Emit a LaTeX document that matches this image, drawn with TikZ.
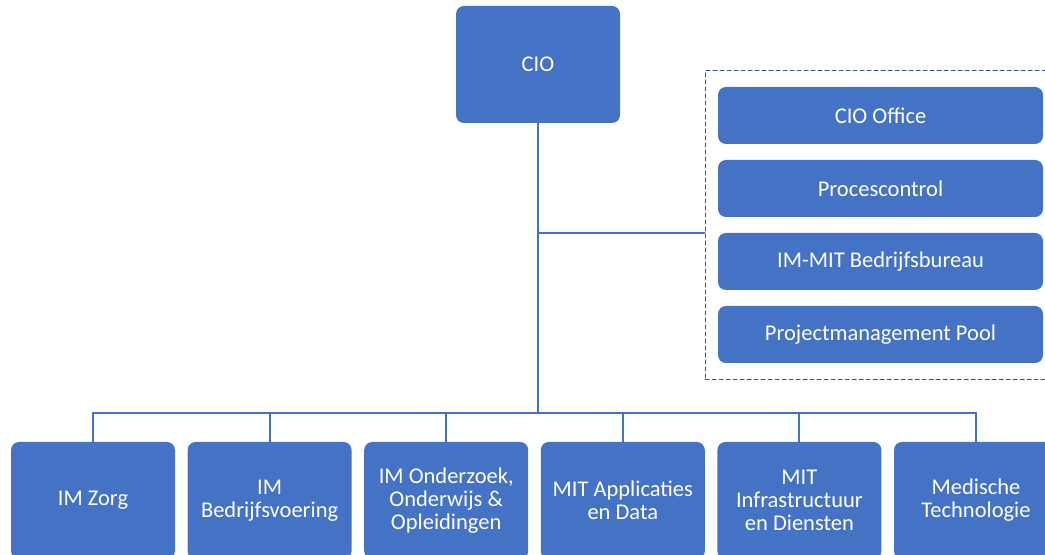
\documentclass[tikz,border=0pt]{standalone}
\usepackage{fontspec}
\setmainfont{Carlito}
\definecolor{unitblue}{HTML}{4472C4}
\definecolor{frameblue}{HTML}{2F5597}

\begin{document}
\begin{tikzpicture}[x=0.5pt,y=-0.5pt,line cap=round,
		unit/.style={fill=unitblue,text=white,rounded corners=4pt,align=center,inner sep=0pt,
			font=\fontsize{11.25}{11.5}\selectfont},
		link/.style={draw=unitblue,line width=1pt}]
		\clip (0,0) rectangle (1045,555);
		\node[unit,minimum width=82pt,minimum height=58.5pt] (cio) at (538,64.5) {CIO};
		%staff
		\node[draw=frameblue,dash pattern=on 2pt off 1.5pt,line width=0.5pt,
			minimum width=172.5pt,minimum height=154.5pt,inner sep=0pt] (staffbox) at (877.5,225.5) {};
		\foreach \T [count=\i] in {CIO Office,Procescontrol,IM-MIT Bedrijfsbureau,Projectmanagement Pool}
		{\node[unit,minimum width=162.5pt,minimum height=28.5pt] (s\i) at (880.5,{115.5+73*(\i-1)}) {\T};}
		%departments
		\foreach \T [count=\i] in {{IM Zorg},{IM\\Bedrijfsvoering},{IM Onderzoek,\\Onderwijs \&\\Opleidingen},
			{MIT Applicaties\\en Data},{MIT\\Infrastructuur\\en Diensten},{Medische\\Technologie}}
		{\node[unit,minimum width=82pt,minimum height=58.5pt] (z\i) at ({93+176.6*(\i-1)},500.5) {\T};}
		\coordinate (bus) at (538,413);
		\coordinate (tap) at (538,233);
		\draw[link] (cio.south) -- (bus);
		\draw[link] (tap) -- (tap -| staffbox.west);
		\draw[link] (z1.north |- bus) -- (z6.north |- bus);
		\foreach \i in {1,...,6}
		{\draw[link] (z\i.north |- bus) -- (z\i.north);}
	\end{tikzpicture}
\end{document}
